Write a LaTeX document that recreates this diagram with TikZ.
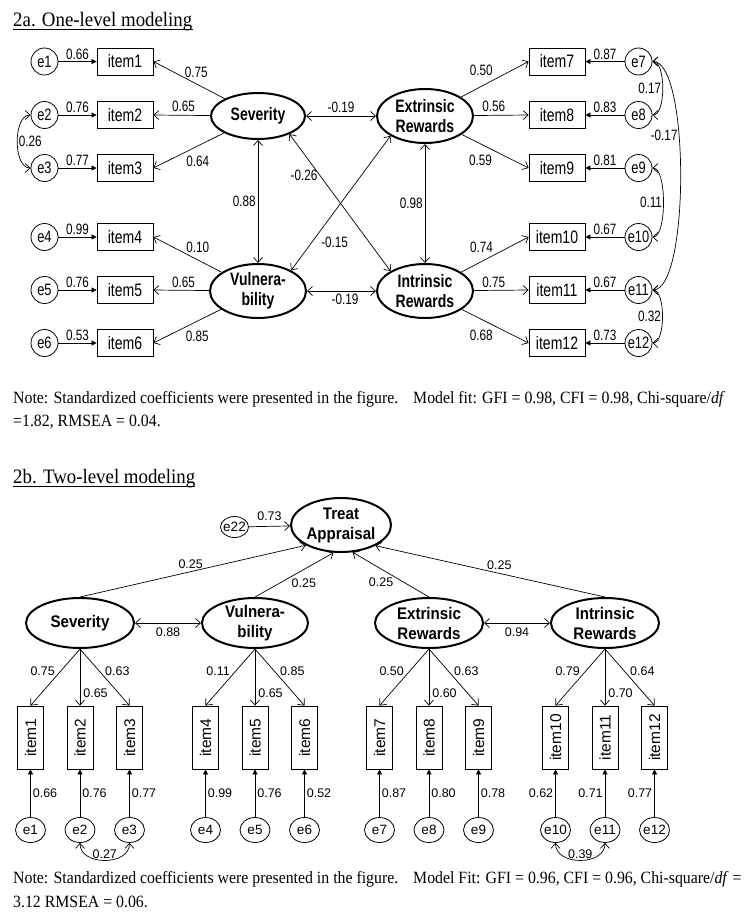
\documentclass[tikz,border=0pt]{standalone}
\usepackage{graphicx}
\usepackage{fontspec}
\setmainfont{Liberation Serif}[FakeStretch=0.92]
\setsansfont{Liberation Sans}
\newfontfamily\narrowsans{Liberation Sans}[FakeStretch=0.78]
\newfontfamily\midsans{Liberation Sans}[FakeStretch=0.9]
\usepackage{tikz}
\usetikzlibrary{arrows.meta,positioning,shapes.geometric}

\begin{document}
\begin{tikzpicture}[
  x=1pt,y=-1pt,
  lat/.style={ellipse,draw,line width=2pt,align=center,minimum width=96,minimum height=54,inner xsep=-10pt,inner ysep=-8pt,font=\narrowsans\bfseries\fontsize{18}{20}\selectfont},
  obs/.style={rectangle,draw,line width=0.8pt,minimum width=56,minimum height=27,inner sep=0,font=\narrowsans\fontsize{18}{20}\selectfont},
  res/.style={circle,draw,line width=0.8pt,minimum size=27,inner sep=0,font=\narrowsans\fontsize{16.5}{18}\selectfont},
  lbl/.style={inner sep=1pt,font=\narrowsans\fontsize{15}{17}\selectfont},
  lat2/.style={lat,minimum width=108,minimum height=50,font=\midsans\bfseries\fontsize{16.8}{20}\selectfont},
  vobs/.style={rectangle,draw,line width=0.8pt,minimum width=26,minimum height=63,inner sep=0,font=\sffamily\fontsize{15.5}{18}\selectfont},
  res2/.style={ellipse,draw,line width=0.8pt,minimum width=30,minimum height=25,inner xsep=-3pt,inner ysep=0pt,font=\sffamily\fontsize{13.5}{16}\selectfont},
  lbl2/.style={inner sep=1pt,font=\sffamily\fontsize{12.5}{15}\selectfont},
  load/.style={-{Straight Barb[length=5pt,width=9pt]},line width=0.7pt},
  cov/.style={{Straight Barb[length=5pt,width=9pt]}-{Straight Barb[length=5pt,width=9pt]},line width=0.7pt},
  resarr/.style={-{Triangle[length=5pt,width=5pt]},line width=0.7pt},
  note/.style={anchor=base west,inner sep=0,font=\fontsize{17.2}{20}\selectfont},
  ttl/.style={anchor=base west,inner sep=0,font=\fontsize{20.5}{24}\selectfont}
]
\useasboundingbox (0,0) rectangle (751,921);

% 2a: one-level model
\node[ttl] (t1) at (13,26) {2a. One-level modeling};
\draw[line width=0.8pt] ([yshift=-3.5pt]t1.base west) -- ([yshift=-3.5pt]t1.base east);

\node[lat,minimum width=94,minimum height=46] (sev) at (258,116) {Severity};
\node[lat] (vul) at (258,291) {Vulnera-\\bility};
\node[lat] (ext) at (425,116) {Extrinsic\\Rewards};
\node[lat] (int) at (425,291) {Intrinsic\\Rewards};

\foreach \n/\y/\w in {1/61.5/0.66,2/115/0.76,3/168/0.77,4/237/0.99,5/290/0.76,6/343/0.53} {
  \node[obs] (i\n) at (125,\y) {item\n};
  \node[res] (e\n) at (44.5,\y) {e\n};
  \draw[resarr] (e\n) -- node[lbl,above=1pt]{\w} (i\n);
}
\foreach \n/\y/\w in {7/61.5/0.87,8/115/0.83,9/168/0.81,10/237/0.67,11/290/0.67,12/343/0.73} {
  \node[obs] (i\n) at (557,\y) {item\n};
  \node[res] (e\n) at (638.5,\y) {e\n};
  \draw[resarr] (e\n) -- node[lbl,above=1pt]{\w} (i\n);
}

\draw[load] (sev) -- node[lbl,pos=.4,above=5pt]{0.75} (i1.east);
\draw[load] (sev) -- node[lbl,pos=.47,above=2pt]{0.65} (i2.east);
\draw[load] (sev) -- node[lbl,pos=.37,below=9pt]{0.64} (i3.east);
\draw[load] (vul) -- node[lbl,pos=.35,above=6pt]{0.10} (i4.east);
\draw[load] (vul) -- node[lbl,pos=.46,above=1pt]{0.65} (i5.east);
\draw[load] (vul) -- node[lbl,pos=.35,below=9pt]{0.85} (i6.east);
\draw[load] (ext) -- node[lbl,pos=.3,above=9pt]{0.50} (i7.west);
\draw[load] (ext) -- node[lbl,pos=.36,above=2pt]{0.56} (i8.west);
\draw[load] (ext) -- node[lbl,pos=.28,below=10pt]{0.59} (i9.west);
\draw[load] (int) -- node[lbl,pos=.3,above=8pt]{0.74} (i10.west);
\draw[load] (int) -- node[lbl,pos=.36,above=1pt]{0.75} (i11.west);
\draw[load] (int) -- node[lbl,pos=.29,below=9pt]{0.68} (i12.west);

\draw[cov] (sev) -- node[lbl,above=2pt]{-0.19} (ext);
\draw[cov] (vul) -- node[lbl,pos=.55,below=2pt]{-0.19} (int);
\draw[cov] (sev) -- node[lbl,left=1pt]{0.88} (vul);
\draw[cov] (ext) -- node[lbl,left=1pt]{0.98} (int);
\draw[cov] (sev.-30) -- node[lbl,pos=.3,left=1pt]{-0.26} (int.150);
\draw[cov] (vul.32) -- node[lbl,pos=.21,right=8pt]{-0.15} (ext.-150);

\draw[cov] (e2.west) to[out=180,in=180,looseness=.85] node[lbl,right]{0.26} (e3.west);
\draw[cov] (e7.east) to[out=0,in=0,looseness=.65] node[lbl,left]{0.17} (e8.east);
\draw[cov] (e9.east) to[out=0,in=0,looseness=.54] node[lbl,left]{0.11} (e10.east);
\draw[cov] (e11.east) to[out=0,in=0,looseness=.64] node[lbl,left]{0.32} (e12.east);
\draw[cov] (e7.east) to[out=0,in=0,looseness=.42] node[lbl,pos=.38,left]{-0.17} (e11.east);

\node[note] (n1) at (13,403) {Note: Standardized coefficients were presented in the figure.};
\node[note] (n2) at (413,403) {Model fit: GFI = 0.98, CFI = 0.98, Chi-square/\textit{df}};
\node[note] (n3) at (13,426) {=1.82, RMSEA = 0.04.};

% 2b: two-level model
\node[ttl] (t2) at (13,483) {2b. Two-level modeling};
\draw[line width=0.8pt] ([yshift=-3.5pt]t2.base west) -- ([yshift=-3.5pt]t2.base east);

\node[lat2,minimum width=100,minimum height=54] (ta) at (341,525) {Treat\\Appraisal};
\node[res2,minimum width=28,minimum height=21] (e22) at (234.5,527) {e22};
\draw[load] (e22) -- node[lbl2,above=4pt]{0.73} (ta);

\node[lat2] (sev2) at (80,623) {Severity};
\node[lat2,minimum width=106] (vul2) at (255,623) {Vulnera-\\bility};
\node[lat2] (ext2) at (429,623) {Extrinsic\\Rewards};
\node[lat2] (int2) at (605,623) {Intrinsic\\Rewards};

\draw[load] (sev2.north) -- node[lbl2,pos=.49,above=2pt]{0.25} (ta.210);
\draw[load] (vul2.north) -- node[lbl2,pos=.45,below right]{0.25} (ta.255);
\draw[load] (ext2.north) -- node[lbl2,pos=.45,below left]{0.25} (ta.-67);
\draw[load] (int2.north) -- node[lbl2,pos=.46,above=2pt]{0.25} (ta.-31);

\draw[cov] (sev2) -- node[lbl2,below=3pt]{0.88} (vul2);
\draw[cov] (ext2) -- node[lbl2,below=3pt]{0.94} (int2);

\foreach \n/\x in {1/30.5,2/80,3/129.5,4/205.5,5/255,6/304.5,7/379.5,8/429,9/478.5,10/555.5,11/605,12/654.5} {
  \node[vobs] (b\n) at (\x,737.5) {\rotatebox{90}{item\n}};
  \node[res2] (f\n) at (\x,830) {e\n};
}
\foreach \n/\w in {1/0.66,2/0.76,3/0.77,4/0.99,5/0.76,6/0.52,7/0.87,8/0.80,9/0.78}
  \draw[resarr] (f\n) -- node[lbl2,right=1pt]{\w} (b\n);
\foreach \n/\w in {10/0.62,11/0.71,12/0.77}
  \draw[resarr] (f\n) -- node[lbl2,left=1pt]{\w} (b\n);

\foreach \f/\l/\m/\r/\wl/\wm/\wr in {sev2/1/2/3/0.75/0.65/0.63,vul2/4/5/6/0.11/0.65/0.85,ext2/7/8/9/0.50/0.60/0.63,int2/10/11/12/0.79/0.70/0.64} {
  \draw[load] (\f.south) -- node[lbl2,pos=.4,left=4pt]{\wl} (b\l.north);
  \draw[load] (\f.south) -- node[lbl2,pos=.78,right=2pt]{\wm} (b\m.north);
  \draw[load] (\f.south) -- node[lbl2,pos=.4,right=4pt]{\wr} (b\r.north);
}

\draw[cov] (f2.south) to[out=-90,in=-90,looseness=1.2] node[lbl2,above]{0.27} (f3.south);
\draw[cov] (f10.south) to[out=-90,in=-90,looseness=1.2] node[lbl2,above]{0.39} (f11.south);

\node[note] (n4) at (13,883) {Note: Standardized coefficients were presented in the figure.};
\node[note] (n5) at (413,883) {Model Fit: GFI = 0.96, CFI = 0.96, Chi-square/\textit{df} =};
\node[note] (n6) at (13,907) {3.12 RMSEA = 0.06.};
\end{tikzpicture}
\end{document}
